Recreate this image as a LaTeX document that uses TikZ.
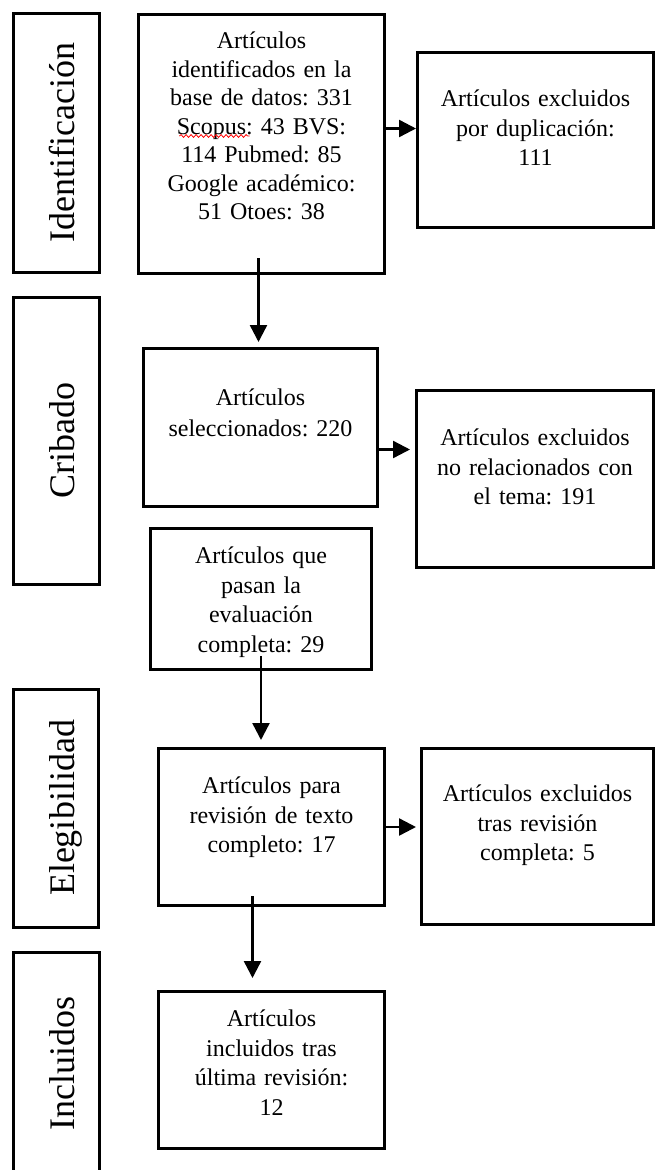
\documentclass[tikz,border=0pt]{standalone}
\usepackage{fontspec}
\setmainfont{Liberation Serif}
\usepackage{tikz}
\usetikzlibrary{arrows.meta}
\usetikzlibrary{decorations.pathmorphing}
\usetikzlibrary{positioning}
\frenchspacing

\tikzset{
  caja/.style={draw, line width=3pt, align=center, inner xsep=0pt, inner ysep=0pt,
    anchor=north west, font=\fontsize{24}{29.5}\selectfont},
  fase/.style={draw, line width=3pt, rotate=90, inner sep=0pt,
    text height=37pt, text depth=0pt, font=\fontsize{36}{40}\selectfont},
  flecha/.style={line width=2.4pt, -{Triangle[length=17pt,width=17pt]}},
  onda/.style={red, line width=0.8pt, decorate,
    decoration={snake, amplitude=1.4pt, segment length=5pt}}
}

\begin{document}
\begin{tikzpicture}[x=1pt,y=-1pt]
  \useasboundingbox (0,0) rectangle (654,1170);

  % fases
  \node[fase, minimum width=259pt, minimum height=86pt] (fid) at (56,142.5) {Identificación};
  \node[fase, minimum width=287pt, minimum height=86pt] (fcr) at (56,440.5) {Cribado};
  \node[fase, minimum width=238pt, minimum height=85pt] (fel) at (55.5,808) {Elegibilidad};
  \node[fase, minimum width=222pt, minimum height=86pt] (fin) at (56,1063) {Incluidos};

  % cajas
  \node[caja, text width=246pt, text height=34pt, text depth=225pt,
    font=\fontsize{24}{28.5}\selectfont] (ident) at (137,13)
    {Artículos\\ identificados en la\\ base de datos: 331\\ Scopus: 43 BVS:\\
     114 Pubmed: 85\\ Google académico:\\ 51 Otoes: 38};
  \node[caja, text width=236pt, text height=54pt, text depth=121pt] (excl1) at (416,51)
    {Artículos excluidos\\ por duplicación:\\ 111};
  \node[caja, text width=234pt, text height=57pt, text depth=101pt,
    font=\fontsize{24}{31}\selectfont] (selec) at (142,347)
    {Artículos\\ seleccionados: 220};
  \node[caja, text width=237pt, text height=55pt, text depth=122pt] (excl2) at (415,389)
    {Artículos excluidos\\ no relacionados con\\ el tema: 191};
  \node[caja, text width=221pt, text height=35pt, text depth=106pt] (evalua) at (149,527)
    {Artículos que\\ pasan la\\ evaluación\\ completa: 29};
  \node[caja, text width=226pt, text height=45pt, text depth=112pt] (revis) at (157,747)
    {Artículos para\\ revisión de texto\\ completo: 17};
  \node[caja, text width=232pt, text height=53pt, text depth=123pt] (excl3) at (420,747)
    {Artículos excluidos\\ tras revisión\\ completa: 5};
  \node[caja, text width=226pt, text height=35pt, text depth=122pt] (inclu) at (157,990)
    {Artículos\\ incluidos tras\\ última revisión:\\ 12};

  % subrayado del corrector bajo "Scopus"
  \draw[onda] ([xshift=-82pt,yshift=-123pt]ident.north) -- ([xshift=-12pt,yshift=-123pt]ident.north);

  % flechas
  \coordinate (c0) at ([yshift=15.5pt]ident.east);
  \draw[flecha] (c0) -- (c0 -| excl1.west);
  \coordinate (c1) at ([xshift=-3pt,yshift=17pt]ident.south);
  \draw[flecha, shorten >=5pt] (c1) -- (c1 |- selec.north);
  \coordinate (c2) at ([yshift=-22pt]selec.east);
  \draw[flecha, shorten >=5pt] (c2) -- (c2 -| excl2.west);
  \coordinate (c3) at ([yshift=15pt]evalua.south);
  \draw[flecha, shorten >=7pt] (c3) -- (c3 |- revis.north);
  \draw[flecha, shorten >=4pt] (revis.east) -- (revis.east -| excl3.west);
  \coordinate (c4) at ([xshift=-19pt,yshift=11pt]revis.south);
  \draw[flecha, shorten >=12pt] (c4) -- (c4 |- inclu.north);
\end{tikzpicture}
\end{document}
